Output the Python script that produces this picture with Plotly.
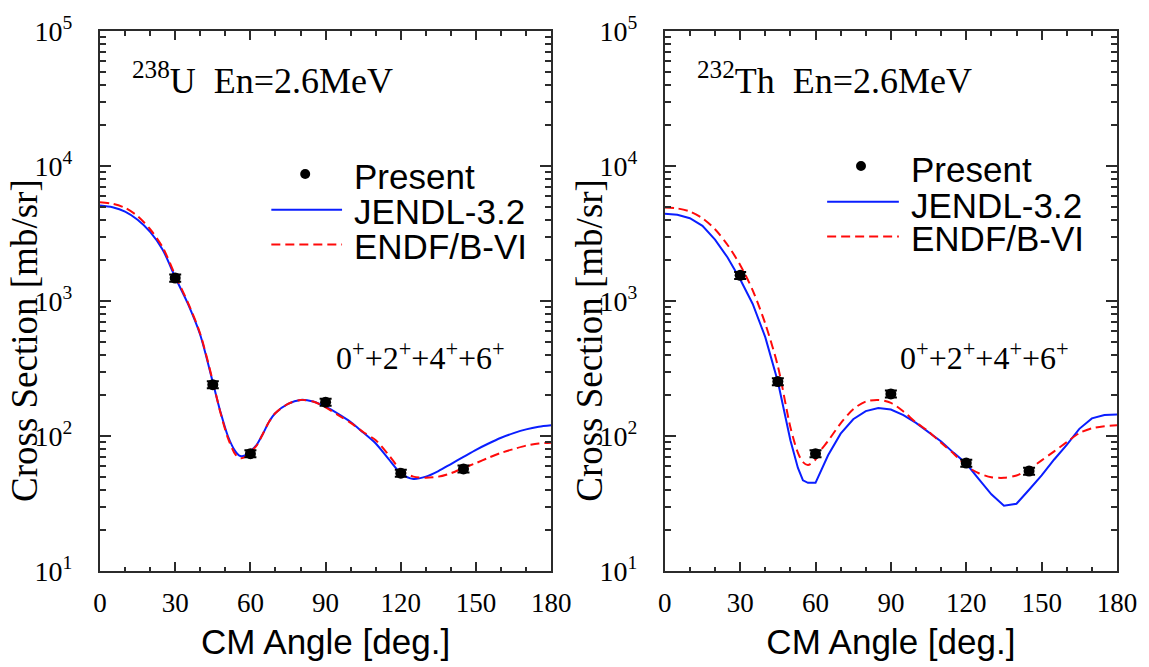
import plotly.graph_objects as go

# ---- measured angular distributions (0+ + 2+ + 4+ + 6+), mb/sr ----
exp_angle = [30, 45, 60, 90, 120, 145]
u238_present = [1480, 240, 74, 178, 53, 57]
th232_present = [1550, 253, 74, 205, 63, 55]

# ---- evaluated-data curves, 238U ----
u238_theta = [0, 5, 10, 15, 20, 25, 30, 35, 40, 45, 48, 51, 54, 56, 58, 60, 62.5, 65,
              67.5, 70, 75, 80, 85, 90, 95, 100, 105, 110, 115, 120, 125, 130, 135,
              140, 145, 150, 155, 160, 165, 170, 175, 180]
u238_jendl = [5100, 4950, 4600, 4000, 3250, 2400, 1500, 960, 560, 250, 152, 100, 77, 71,
              72, 77, 86, 104, 128, 148, 173, 185, 180, 165, 146, 127, 106, 88, 68, 53,
              48, 50, 55, 62, 70, 79, 88, 97, 105, 112, 117, 120]
u238_endf = [5400, 5250, 4900, 4250, 3400, 2500, 1550, 980, 570, 255, 150, 97, 73, 68.5,
             70, 76, 85, 104, 128, 148, 173, 185, 180, 163, 143, 125, 107, 93, 73, 56,
             50, 49, 50, 53, 58, 63, 69, 75, 80, 85, 88, 89]

# ---- evaluated-data curves, 232Th ----
th232_theta = [0, 5, 10, 15, 20, 25, 30, 35, 40, 45, 50, 53, 55, 57, 60, 62, 65, 70, 75,
               80, 85, 90, 95, 100, 105, 110, 115, 120, 125, 130, 135, 140, 145, 150,
               155, 160, 165, 170, 175, 180]
th232_jendl = [4420, 4350, 4100, 3600, 2850, 2100, 1450, 950, 540, 253, 93, 58, 47, 45,
               45, 55, 72, 104, 133, 153, 161, 157, 143, 125, 107, 91, 75, 62.5, 48, 37,
               30.5, 31.5, 40, 51, 67, 86, 113, 135, 143, 144]
th232_endf = [4930, 4850, 4600, 4100, 3400, 2600, 1850, 1200, 680, 330, 116, 75, 64, 61,
              67, 78, 92, 124, 158, 180, 185, 176, 152, 126, 108, 89, 74, 60, 53, 49.5,
              49, 51, 57, 66, 77, 90, 105, 114, 118, 120]

# axis tick labels
x_ticks = [0, 30, 60, 90, 120, 150, 180]
y_ticks = [10, 100, 1000, 10000, 100000]
y_tick_text = ["10<sup>1</sup>", "10<sup>2</sup>", "10<sup>3</sup>", "10<sup>4</sup>", "10<sup>5</sup>"]

panels = [
    ("238", "U", u238_present, u238_theta, u238_jendl, u238_endf, "spline"),
    ("232", "Th", th232_present, th232_theta, th232_jendl, th232_endf, "linear"),
]

W, H = 1149, 667
ML, MR, MT, MB = 100, 28, 28, 95
PW, PH = W - ML - MR, H - MT - MB


def px(x):
    return (x - ML) / PW


def py(y):
    return (H - MB - y) / PH


BLUE = "#0a1eff"
RED = "#ff0a0a"
AXC = "#2b2b2b"
SERIF = "Liberation Serif"
SANS = "Liberation Sans"

fig = go.Figure()
shapes = []
annotations = []

domains = [[0.0, px(553)], [px(667), 1.0]]
legend_geo = [
    dict(dot=(306, 172), lx=(272, 343), ly=(208, 243), tx=353, ty=(175, 210, 245)),
    dict(dot=(864, 164), lx=(830, 902), ly=(200, 235), tx=912, ty=(168, 204, 237)),
]
title_x = [130, 697]
label_x = [335, 901]
ytitle_x = [24, 592]

for i, (mass, elem, pres, theta, jendl, endf, shape) in enumerate(panels):
    xa = "x" if i == 0 else "x2"
    ya = "y" if i == 0 else "y2"

    fig.add_trace(go.Scatter(
        x=theta, y=jendl, mode="lines", xaxis=xa, yaxis=ya,
        line=dict(color=BLUE, width=2, shape=shape, smoothing=0.8),
        showlegend=False, name="JENDL-3.2"))
    fig.add_trace(go.Scatter(
        x=theta, y=endf, mode="lines", xaxis=xa, yaxis=ya,
        line=dict(color=RED, width=2, dash="9px,5px", shape="spline", smoothing=0.8),
        showlegend=False, name="ENDF/B-VI"))
    fig.add_trace(go.Scatter(
        x=exp_angle, y=pres, mode="markers", xaxis=xa, yaxis=ya,
        marker=dict(color="black", size=11, symbol="circle"),
        error_y=dict(type="percent", value=6, color="black", thickness=2, width=6),
        showlegend=False, name="Present"))

    # legend block drawn inside the frame
    g = legend_geo[i]
    dx, dy = g["dot"]
    shapes.append(dict(type="circle", xref="paper", yref="paper",
                       x0=px(dx - 5), x1=px(dx + 5), y0=py(dy + 5), y1=py(dy - 5),
                       fillcolor="black", line=dict(color="black", width=0)))
    shapes.append(dict(type="line", xref="paper", yref="paper",
                       x0=px(g["lx"][0]), x1=px(g["lx"][1]),
                       y0=py(g["ly"][0]), y1=py(g["ly"][0]),
                       line=dict(color=BLUE, width=2)))
    shapes.append(dict(type="line", xref="paper", yref="paper",
                       x0=px(g["lx"][0]), x1=px(g["lx"][1]),
                       y0=py(g["ly"][1]), y1=py(g["ly"][1]),
                       line=dict(color=RED, width=2, dash="9px,5px")))
    for txt, ty in zip(["Present", "JENDL-3.2", "ENDF/B-VI"], g["ty"]):
        annotations.append(dict(text=txt, xref="paper", yref="paper",
                                x=px(g["tx"]), y=py(ty), xanchor="left", yanchor="middle",
                                showarrow=False, font=dict(family=SANS, size=35, color="black")))

    annotations.append(dict(
        text=f"<sup>{mass}</sup>{elem}\u00a0\u00a0En=2.6MeV",
        xref="paper", yref="paper", x=px(title_x[i]), y=py(76),
        xanchor="left", yanchor="middle", showarrow=False,
        font=dict(family=SERIF, size=36, color="black")))
    annotations.append(dict(
        text="0<sup>+</sup>+2<sup>+</sup>+4<sup>+</sup>+6<sup>+</sup>",
        xref="paper", yref="paper", x=px(label_x[i]), y=py(355),
        xanchor="left", yanchor="middle", showarrow=False,
        font=dict(family=SERIF, size=32, color="black")))
    # y-axis title, placed beside each frame
    annotations.append(dict(
        text="Cross Section [mb/sr]", textangle=-90,
        xref="paper", yref="paper", x=px(ytitle_x[i]), y=py(340),
        xanchor="center", yanchor="middle", showarrow=False,
        font=dict(family=SERIF, size=37, color="black")))

xcommon = dict(
    range=[0, 180], tickmode="array", tickvals=x_ticks, ticks="inside", ticklen=9,
    tickwidth=1.5, tickcolor=AXC, showline=True, linecolor=AXC, linewidth=2,
    mirror="allticks", showgrid=False, zeroline=False,
    minor=dict(dtick=10, tick0=0, ticks="inside", ticklen=4.5, tickwidth=1.5,
               tickcolor=AXC, showgrid=False),
    tickfont=dict(family=SERIF, size=27, color="black"), ticklabelstandoff=7,
    title=dict(text="CM Angle [deg.]", font=dict(family=SANS, size=35, color="black"), standoff=12),
)
ycommon = dict(
    type="log", range=[1, 5], tickmode="array", tickvals=y_ticks, ticktext=y_tick_text,
    ticks="inside", ticklen=11, tickwidth=1.5, tickcolor=AXC, showline=True,
    linecolor=AXC, linewidth=2, mirror="allticks", showgrid=False, zeroline=False,
    minor=dict(dtick="D1", ticks="inside", ticklen=6, tickwidth=1.5, tickcolor=AXC, showgrid=False),
    tickfont=dict(family=SERIF, size=28, color="black"), ticklabelstandoff=20,
)

fig.update_layout(
    width=W, height=H,
    margin=dict(l=ML, r=MR, t=MT, b=MB),
    paper_bgcolor="white", plot_bgcolor="white",
    showlegend=False,
    xaxis=dict(domain=domains[0], anchor="y", **xcommon),
    yaxis=dict(domain=[0, 1], anchor="x", **ycommon),
    xaxis2=dict(domain=domains[1], anchor="y2", **xcommon),
    yaxis2=dict(domain=[0, 1], anchor="x2", **ycommon),
    shapes=shapes,
    annotations=annotations,
)

fig.write_html("out.html")
